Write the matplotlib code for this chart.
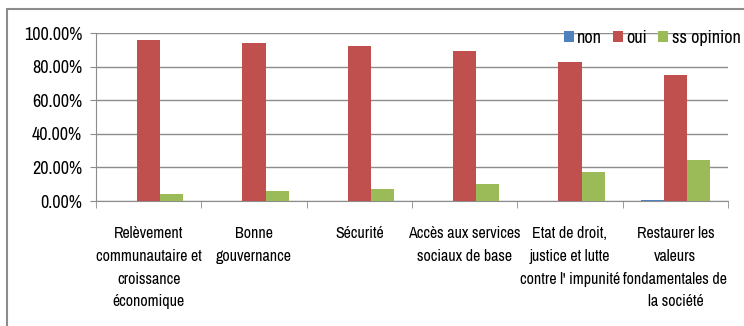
import numpy as np
import matplotlib
matplotlib.use("Agg")
from matplotlib import pyplot as plt
from matplotlib.patches import Rectangle
from matplotlib.ticker import FuncFormatter

categories = ["Relèvement\ncommunautaire et\ncroissance\néconomique",
              "Bonne\ngouvernance",
              "Sécurité",
              "Accès aux services\nsociaux de base",
              "Etat de droit,\njustice et lutte\ncontre l' impunité",
              "Restaurer les\nvaleurs\nfondamentales de\nla société"]
non = [0.0, 0.0, 0.0, 0.0, 0.0, 0.6]
oui = [95.8, 93.8, 92.5, 89.3, 83.0, 74.8]
ss_opinion = [4.2, 6.1, 7.4, 10.1, 17.1, 24.4]

plt.rcParams['font.family'] = ['Archivo Narrow', 'DejaVu Sans']

fig = plt.figure(figsize=(7.44, 3.26), dpi=100)
ax = fig.add_axes([96/744, 1 - 201/326, 632/744, 168/326])

# chart frame
fig.patches.append(Rectangle((7/744, -0.1), 1.2, 1 - 9/326 + 0.1, transform=fig.transFigure,
                             fill=False, edgecolor='#8c8c8c', linewidth=1.5))

x = np.arange(len(categories))
w = 0.22
ax.bar(x - w, non, w, color='#4f81bd', label='non', zorder=3)
ax.bar(x, oui, w, color='#c0504d', label='oui', zorder=3)
ax.bar(x + w, ss_opinion, w, color='#9bbb59', label='ss opinion', zorder=3)

ax.set_xlim(-0.5, len(categories) - 0.5)
ax.set_ylim(0, 100)
ax.set_yticks(np.arange(0, 101, 20))
ax.yaxis.set_major_formatter(FuncFormatter(lambda v, p: '%.2f%%' % v))
ax.grid(axis='y', color='#8c8c8c', linewidth=1, zorder=0)
ax.set_xticks(x)
ax.set_xticklabels(categories, fontsize=11.5, va='top', linespacing=1.65)
ax.tick_params(axis='x', length=0, pad=18)
ax.set_xticks(np.arange(-0.5, len(categories)), minor=True)
ax.tick_params(axis='x', which='minor', length=5, color='#8c8c8c')
ax.tick_params(axis='y', labelsize=13, length=4, color='#8c8c8c', pad=6)
for s in ['top', 'right']:
    ax.spines[s].set_visible(False)
for s in ['left', 'bottom']:
    ax.spines[s].set_color('#8c8c8c')

fig.legend(loc='center right', bbox_to_anchor=(1.005, 1 - 38/326), ncol=3, frameon=False,
           fontsize=13, handlelength=0.55, handleheight=0.6, handletextpad=0.2,
           columnspacing=0.6, borderaxespad=0)

fig.savefig('out.png', dpi=100)
